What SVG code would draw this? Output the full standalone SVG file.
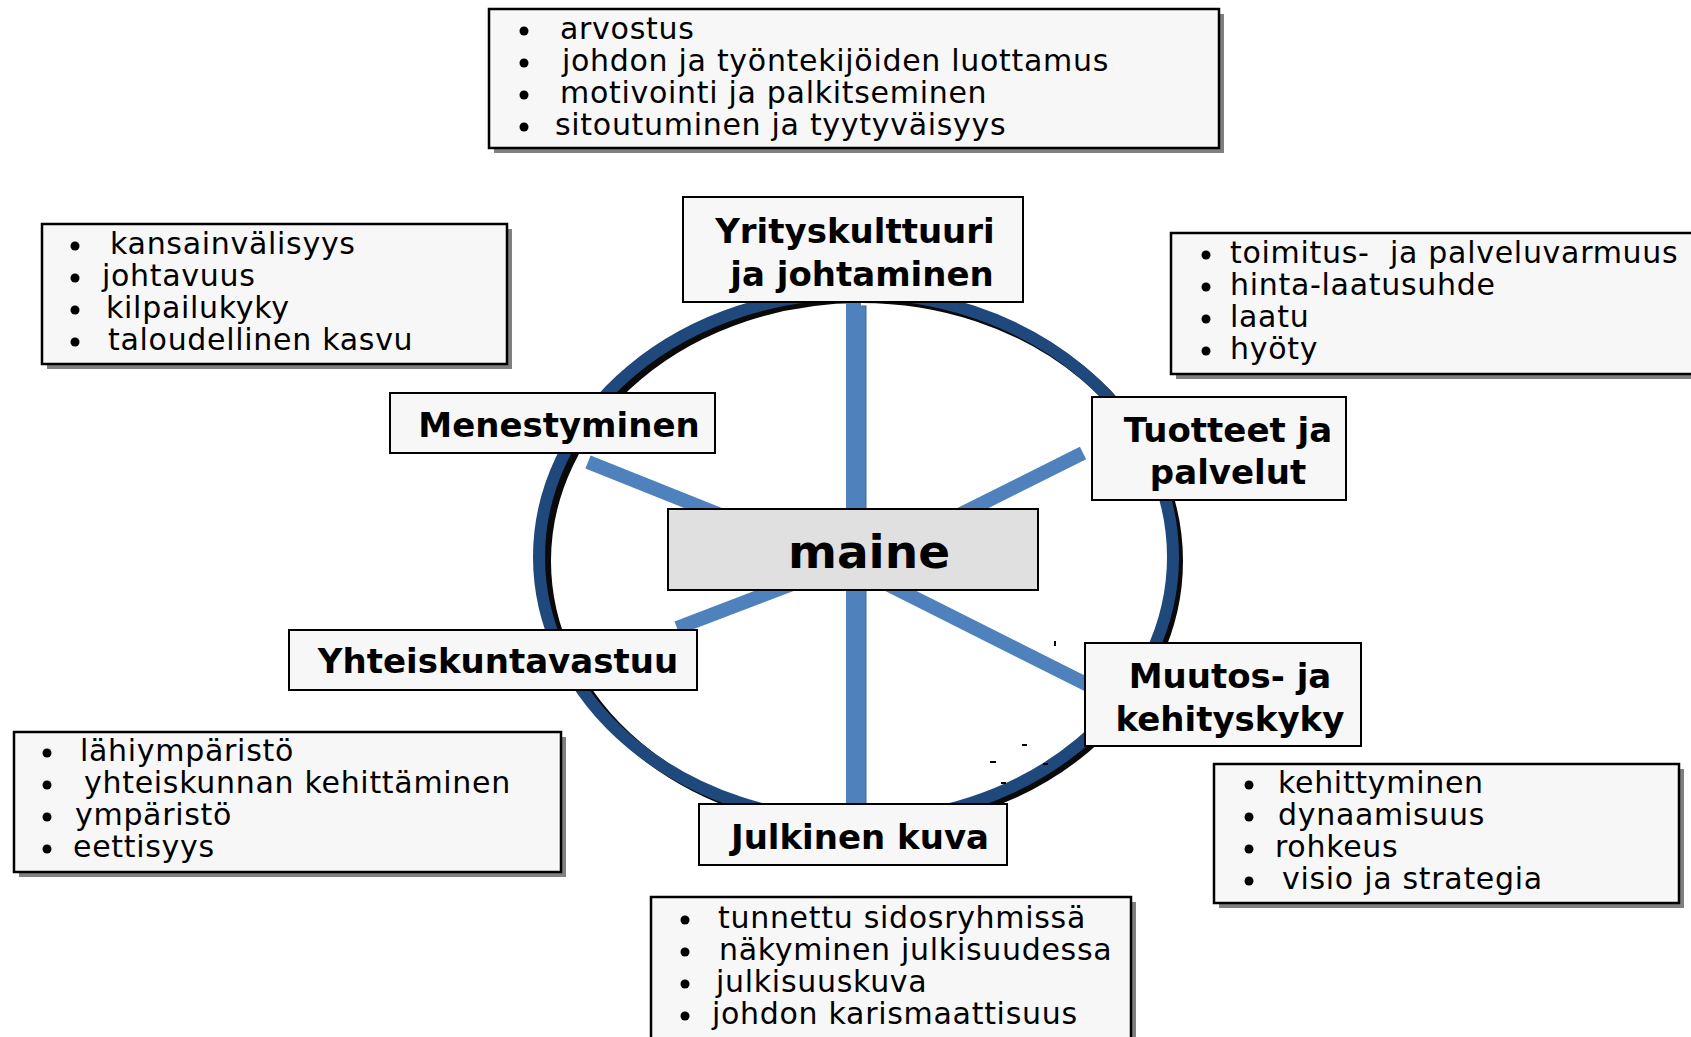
<svg xmlns="http://www.w3.org/2000/svg" width="1691" height="1037" viewBox="0 0 1691 1037">
<style>
.box{fill:#f7f7f7;stroke:#000;stroke-width:2}
.bbox{fill:#f7f7f7;stroke:#000;stroke-width:2.5}
.shadow{fill:#808080}
.lbl{font-family:"DejaVu Sans",sans-serif;font-weight:bold;font-size:34px;fill:#000;text-anchor:middle}
.itm{font-family:"DejaVu Sans",sans-serif;font-size:30px;fill:#000;letter-spacing:0.7px}
.dot{fill:#000}
.spoke{stroke:#4f81bd;stroke-width:14;fill:none;stroke-linecap:butt}
</style>
<rect width="1691" height="1037" fill="#fff"/>
<g id="ring">
  <ellipse cx="861" cy="561" rx="316" ry="264" fill="none" stroke="#0a0a0a" stroke-width="12"/>
  <ellipse cx="856" cy="557" rx="317" ry="264" fill="none" stroke="#1f497d" stroke-width="12"/>
</g>
<g id="connectors">
  <line class="spoke" x1="588" y1="462" x2="733" y2="520"/>
  <line class="spoke" x1="1083" y1="453" x2="949" y2="520"/>
  <line class="spoke" x1="677" y1="628" x2="803" y2="580"/>
  <line class="spoke" x1="1088" y1="685" x2="879" y2="580"/>
  <rect x="860" y="306" width="6" height="499" fill="#4f81bd" stroke="#3a6aa5" stroke-width="1"/>
  <rect x="846" y="300" width="15" height="505" fill="#4f81bd"/>
</g>
<g id="marks" fill="#000">
  <rect x="1054" y="641" width="2" height="5"/>
  <rect x="1022" y="744" width="5" height="2"/>
  <rect x="990" y="761" width="6" height="2"/>
  <rect x="1043" y="763" width="5" height="2"/>
  <rect x="1001" y="782" width="5" height="2"/>
</g>
<g id="box-top">
  <rect class="shadow" x="494" y="14" width="730" height="139"/>
  <rect class="bbox" x="489" y="9" width="730" height="139"/>
  <circle class="dot" cx="524" cy="31" r="4.5"/><text class="itm" x="560" y="39">arvostus</text>
  <circle class="dot" cx="524" cy="63" r="4.5"/><text class="itm" x="562" y="71">johdon ja työntekijöiden luottamus</text>
  <circle class="dot" cx="524" cy="95" r="4.5"/><text class="itm" x="560" y="103">motivointi ja palkitseminen</text>
  <circle class="dot" cx="524" cy="127" r="4.5"/><text class="itm" x="555" y="135">sitoutuminen ja tyytyväisyys</text>
</g>
<g id="box-left-top">
  <rect class="shadow" x="47" y="229" width="465" height="140"/>
  <rect class="bbox" x="42" y="224" width="465" height="140"/>
  <circle class="dot" cx="75" cy="246" r="4.5"/><text class="itm" x="110" y="254">kansainvälisyys</text>
  <circle class="dot" cx="75" cy="278" r="4.5"/><text class="itm" x="102" y="286">johtavuus</text>
  <circle class="dot" cx="75" cy="310" r="4.5"/><text class="itm" x="106" y="318">kilpailukyky</text>
  <circle class="dot" cx="75" cy="342" r="4.5"/><text class="itm" x="108" y="350">taloudellinen kasvu</text>
</g>
<g id="box-right-top">
  <rect class="shadow" x="1176" y="238" width="530" height="141"/>
  <rect class="bbox" x="1171" y="233" width="530" height="141"/>
  <circle class="dot" cx="1206" cy="255" r="4.5"/><text class="itm" x="1230" y="263" xml:space="preserve">toimitus-  ja palveluvarmuus</text>
  <circle class="dot" cx="1206" cy="287" r="4.5"/><text class="itm" x="1230" y="295">hinta-laatusuhde</text>
  <circle class="dot" cx="1206" cy="319" r="4.5"/><text class="itm" x="1230" y="327">laatu</text>
  <circle class="dot" cx="1206" cy="351" r="4.5"/><text class="itm" x="1230" y="359">hyöty</text>
</g>
<g id="box-bottom-left">
  <rect class="shadow" x="19" y="737" width="547" height="140"/>
  <rect class="bbox" x="14" y="732" width="547" height="140"/>
  <circle class="dot" cx="47" cy="753" r="4.5"/><text class="itm" x="80" y="761">lähiympäristö</text>
  <circle class="dot" cx="47" cy="785" r="4.5"/><text class="itm" x="84" y="793">yhteiskunnan kehittäminen</text>
  <circle class="dot" cx="47" cy="817" r="4.5"/><text class="itm" x="75" y="825">ympäristö</text>
  <circle class="dot" cx="47" cy="849" r="4.5"/><text class="itm" x="73" y="857">eettisyys</text>
</g>
<g id="box-bottom-right">
  <rect class="shadow" x="1219" y="769" width="465" height="139"/>
  <rect class="bbox" x="1214" y="764" width="465" height="139"/>
  <circle class="dot" cx="1249" cy="785" r="4.5"/><text class="itm" x="1278" y="793">kehittyminen</text>
  <circle class="dot" cx="1249" cy="817" r="4.5"/><text class="itm" x="1278" y="825">dynaamisuus</text>
  <circle class="dot" cx="1249" cy="849" r="4.5"/><text class="itm" x="1275" y="857">rohkeus</text>
  <circle class="dot" cx="1249" cy="881" r="4.5"/><text class="itm" x="1282" y="889">visio ja strategia</text>
</g>
<g id="box-bottom">
  <rect class="shadow" x="656" y="902" width="480" height="150"/>
  <rect class="bbox" x="651" y="897" width="480" height="150"/>
  <circle class="dot" cx="685" cy="920" r="4.5"/><text class="itm" x="718" y="928">tunnettu sidosryhmissä</text>
  <circle class="dot" cx="685" cy="952" r="4.5"/><text class="itm" x="719" y="960">näkyminen julkisuudessa</text>
  <circle class="dot" cx="685" cy="984" r="4.5"/><text class="itm" x="716" y="992">julkisuuskuva</text>
  <circle class="dot" cx="685" cy="1016" r="4.5"/><text class="itm" x="712" y="1024">johdon karismaattisuus</text>
</g>
<g id="node-yrityskulttuuri">
  <rect class="box" x="683" y="197" width="340" height="105"/>
  <text class="lbl" x="855" y="243">Yrityskulttuuri</text>
  <text class="lbl" x="862" y="286">ja johtaminen</text>
</g>
<g id="node-menestyminen">
  <rect class="box" x="390" y="393" width="325" height="60"/>
  <text class="lbl" x="559" y="437">Menestyminen</text>
</g>
<g id="node-tuotteet">
  <rect class="box" x="1092" y="397" width="254" height="103"/>
  <text class="lbl" x="1228" y="442">Tuotteet ja</text>
  <text class="lbl" x="1228" y="484">palvelut</text>
</g>
<g id="node-maine">
  <rect class="box" x="668" y="509" width="370" height="81" style="fill:#e0e0e0"/>
  <text class="lbl" x="869" y="568" style="font-size:47px">maine</text>
</g>
<g id="node-yhteiskuntavastuu">
  <rect class="box" x="289" y="630" width="408" height="60"/>
  <text class="lbl" x="498" y="673">Yhteiskuntavastuu</text>
</g>
<g id="node-muutos">
  <rect class="box" x="1085" y="643" width="276" height="103"/>
  <text class="lbl" x="1230" y="688">Muutos- ja</text>
  <text class="lbl" x="1230" y="731">kehityskyky</text>
</g>
<g id="node-julkinen">
  <rect class="box" x="699" y="804" width="308" height="61"/>
  <text class="lbl" x="860" y="849">Julkinen kuva</text>
</g>
</svg>
